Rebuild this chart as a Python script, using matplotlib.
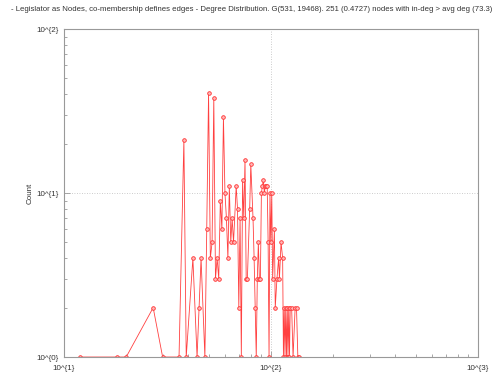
import matplotlib.pyplot as plt
from matplotlib.ticker import FixedLocator, FixedFormatter, NullFormatter

# degree -> count
degree = [12, 18, 20, 27, 30, 36, 38, 39, 42, 44, 45, 46, 48, 49, 50, 51, 52, 53,
          54, 55, 56, 57, 58, 59, 60, 61, 62, 63, 64, 65, 66, 68, 69, 70, 71, 72,
          73, 74, 75, 76, 77, 79, 80, 82, 83, 84, 85, 86, 87, 88, 89, 90, 91, 92,
          93, 94, 95, 96, 97, 98, 99, 100, 101, 102, 104, 105, 107, 109, 110, 112,
          114, 115, 116, 117, 118, 119, 120, 121, 122, 123, 124, 126, 128, 131,
          133, 135, 137]
count = [1, 1, 1, 2, 1, 1, 21, 1, 4, 1, 2, 4, 1, 6, 41, 4, 5, 38,
         3, 4, 3, 9, 6, 29, 10, 7, 4, 11, 5, 7, 5, 11, 8, 2, 7, 1,
         12, 7, 16, 3, 3, 8, 15, 7, 4, 2, 1, 3, 5, 3, 3, 10, 11, 12,
         10, 11, 11, 11, 5, 1, 10, 5, 10, 3, 6, 2, 3, 4, 3, 5,
         4, 1, 2, 1, 2, 1, 2, 1, 2, 1, 2, 2, 1, 2,
         2, 1, 1]

title = ("- Legislator as Nodes, co-membership defines edges - Degree Distribution. "
         "G(531, 19468). 251 (0.4727) nodes with in-deg > avg deg (73.3)")

plt.rcParams['font.family'] = ['Liberation Sans', 'DejaVu Sans']

fig = plt.figure(figsize=(5.03, 3.77), dpi=100)
ax = fig.add_axes([0.127, 0.053, 0.823, 0.870])

ax.plot(degree, count, color='#ff4040', linewidth=0.6, marker='o', markersize=2.6,
        markerfacecolor='#ffb8b8', markeredgecolor='#ff3030', markeredgewidth=0.6)

ax.set_xscale('log')
ax.set_yscale('log')
ax.set_xlim(10, 1000)
ax.set_ylim(1, 100)

ax.xaxis.set_major_locator(FixedLocator([10, 100, 1000]))
ax.xaxis.set_major_formatter(FixedFormatter(['10^{1}', '10^{2}', '10^{3}']))
ax.yaxis.set_major_locator(FixedLocator([1, 10, 100]))
ax.yaxis.set_major_formatter(FixedFormatter(['10^{0}', '10^{1}', '10^{2}']))
ax.xaxis.set_minor_formatter(NullFormatter())
ax.yaxis.set_minor_formatter(NullFormatter())

ax.tick_params(which='both', direction='in', color='#999999', labelsize=5.8,
               labelcolor='#333333', top=False, right=False)
ax.tick_params(which='major', length=4, width=0.6)
ax.tick_params(which='minor', length=2.5, width=0.6)
ax.tick_params(axis='x', pad=6)
ax.tick_params(axis='y', pad=4)

ax.grid(True, which='major', color='#bbbbbb', linestyle=(0, (1, 2)), linewidth=0.6)

for s in ax.spines.values():
    s.set_color('#999999')
    s.set_linewidth(0.8)

ax.set_ylabel('Count', fontsize=5.8, color='#333333', labelpad=2)
fig.text(0.5, 0.976, title, ha='center', va='center', fontsize=5.6, color='#333333')

fig.savefig('out.png', dpi=100)
